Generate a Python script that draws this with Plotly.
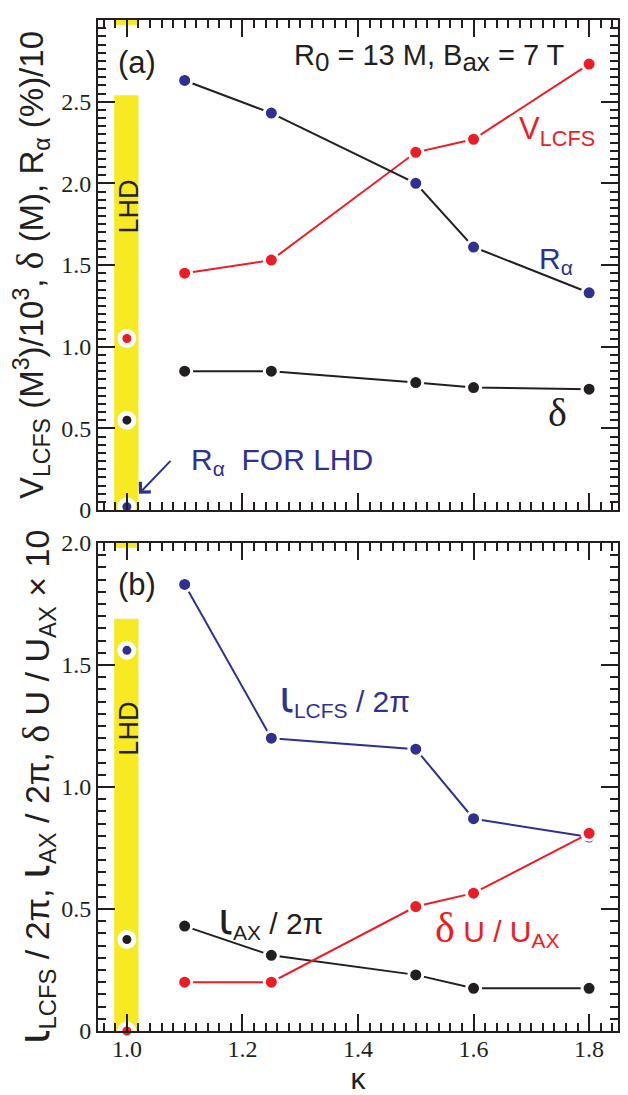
import plotly.graph_objects as go

# ---------------- data ----------------
kappa = [1.1, 1.25, 1.5, 1.6, 1.8]
# panel (a)
v_lcfs = [1.45, 1.53, 2.19, 2.27, 2.73]
r_alpha = [2.63, 2.43, 2.00, 1.61, 1.33]
delta = [0.85, 0.85, 0.78, 0.75, 0.74]
lhd_kappa = [1.0]
lhd_v_lcfs = [1.05]
lhd_delta = [0.55]
lhd_r_alpha = [0.02]
# panel (b)
iota_lcfs = [1.83, 1.20, 1.155, 0.87, 0.795]
iota_ax = [0.43, 0.31, 0.23, 0.175, 0.175]
du_uax = [0.20, 0.20, 0.51, 0.565, 0.81]
lhd_iota_lcfs = [1.56]
lhd_iota_ax = [0.375]
lhd_du_uax = [0.0]

x_ticks = [1.0, 1.2, 1.4, 1.6, 1.8]
ya_ticks = [0, 0.5, 1.0, 1.5, 2.0, 2.5]
ya_text = ["0", "0.5", "1.0", "1.5", "2.0", "2.5"]
yb_ticks = [0, 0.5, 1.0, 1.5, 2.0]
yb_text = ["0", "0.5", "1.0", "1.5", "2.0"]

BLACK = "#231f20"
BLUE = "#2e3192"
RED = "#ed1c24"
YELLOW = "#f7ea22"
SANS = "Liberation Sans, Arial, sans-serif"
SERIF = "Liberation Serif, Times New Roman, serif"


def sym(ch, size, family="Liberation Serif"):
    return f'<span style="font-family:{family};font-size:{size}px">{ch}</span>'


def iota(size):
    return sym("ι", size, "DejaVu Sans")


def bigsub(txt, size):
    return f'<sub><span style="font-size:{size}px">{txt}</span></sub>'


fig = go.Figure()


def series(x, y, line_color, marker_color, xa, ya):
    fig.add_trace(go.Scatter(
        x=x, y=y, mode="lines+markers", xaxis=xa, yaxis=ya,
        line=dict(color=line_color, width=2),
        marker=dict(color=marker_color, size=14, line=dict(color="white", width=3)),
        showlegend=False, hoverinfo="skip"))


def lhd(x, y, color, xa, ya):
    fig.add_trace(go.Scatter(
        x=x, y=y, mode="markers", xaxis=xa, yaxis=ya, cliponaxis=False,
        marker=dict(color=color, size=14, line=dict(color="white", width=5)),
        showlegend=False, hoverinfo="skip"))


# panel (a)
series(kappa, delta, BLACK, BLACK, "x", "y")
series(kappa, v_lcfs, RED, RED, "x", "y")
series(kappa, r_alpha, BLACK, BLUE, "x", "y")
lhd(lhd_kappa, lhd_v_lcfs, RED, "x", "y")
lhd(lhd_kappa, lhd_delta, BLACK, "x", "y")
lhd(lhd_kappa, lhd_r_alpha, BLUE, "x", "y")

# panel (b)
series(kappa, iota_ax, BLACK, BLACK, "x2", "y2")
series(kappa, iota_lcfs, BLUE, BLUE, "x2", "y2")
series(kappa, du_uax, RED, RED, "x2", "y2")
lhd(lhd_kappa, lhd_iota_lcfs, BLUE, "x2", "y2")
lhd(lhd_kappa, lhd_iota_ax, BLACK, "x2", "y2")
lhd(lhd_kappa, lhd_du_uax, RED, "x2", "y2")

minor_x = dict(dtick=0.02, tick0=0, ticklen=8, tickwidth=1.5, tickcolor=BLACK, ticks="inside")
minor_y = dict(dtick=0.05, tick0=0, ticklen=8, tickwidth=1.5, tickcolor=BLACK, ticks="inside")

common_axis = dict(showline=True, linecolor=BLACK, linewidth=2, mirror="allticks",
                   ticks="inside", ticklen=17, tickwidth=2, tickcolor=BLACK,
                   showgrid=False, zeroline=False, automargin=False,
                   tickfont=dict(family=SERIF, size=24, color=BLACK))

title_a = ("V<sub>LCFS</sub> (M<sup>3</sup>)/10<sup>3</sup>, " + sym("δ", 38)
           + " (M), R<sub>α</sub> (%)/10")
title_b = (iota(44) + "<sub>LCFS</sub> / 2π, " + iota(44) + "<sub>AX</sub> / 2π, "
           + sym("δ", 38) + " U / U<sub>AX</sub> × 10")

x_range = [0.95, 1.85]
# the page body adds an 8 px offset, so the figure is 8 px smaller than the window
fig.update_layout(
    width=620, height=1087,
    margin=dict(l=90, r=10, t=12, b=64),
    paper_bgcolor="white", plot_bgcolor="white",
    xaxis=dict(domain=[0, 1], range=x_range, anchor="y", tickvals=x_ticks,
               showticklabels=False, minor=minor_x, **common_axis),
    yaxis=dict(domain=[0.5153, 1], range=[0, 3.0], anchor="x",
               tickvals=ya_ticks, ticktext=ya_text, minor=minor_y,
               title=dict(text=title_a, font=dict(family=SANS, size=33, color=BLACK), standoff=12),
               **common_axis),
    xaxis2=dict(domain=[0, 1], range=x_range, anchor="y2", tickvals=x_ticks,
                tickformat=".1f", minor=minor_x, ticklabelstandoff=-5,
                title=dict(text="κ", font=dict(family=SANS, size=30, color=BLACK), standoff=0),
                **common_axis),
    yaxis2=dict(domain=[0, 0.4827], range=[0, 2.0], anchor="x2",
                tickvals=yb_ticks, ticktext=yb_text, minor=minor_y,
                title=dict(text=title_b, font=dict(family=SANS, size=34, color=BLACK), standoff=12),
                **common_axis),
)

# yellow LHD bands
shapes = [
    dict(x0=0.978, x1=1.02, y0=0, y1=2.54, xref="x", yref="y"),
    dict(x0=0.980, x1=1.018, y0=2.97, y1=3.0, xref="x", yref="y"),
    dict(x0=0.978, x1=1.02, y0=0, y1=1.69, xref="x2", yref="y2"),
    dict(x0=0.980, x1=1.018, y0=1.98, y1=2.0, xref="x2", yref="y2"),
]
for s in shapes:
    fig.add_shape(type="rect", line=dict(width=0), fillcolor=YELLOW, layer="below", **s)


def label(x, y, text, color, size, xref, yref, xanchor="left", textangle=0, family=SANS):
    fig.add_annotation(x=x, y=y, xref=xref, yref=yref, text=text, showarrow=False,
                       xanchor=xanchor, yanchor="middle", textangle=textangle,
                       font=dict(family=family, size=size, color=color))


# panel (a) labels
label(0.981, 2.74, "(a)", BLACK, 31, "x", "y")
label(1.761, 2.77, "R" + bigsub("0", 26) + " = 13 M, B" + bigsub("ax", 26) + " = 7 T",
      BLACK, 29, "x", "y", xanchor="right")
label(1.675, 2.32, "V<sub>LCFS</sub>", RED, 31, "x", "y")
label(1.71, 1.525, "R<sub>α</sub>", BLUE, 30, "x", "y")
label(1.746, 0.60, "δ", BLACK, 40, "x", "y", xanchor="center", family=SERIF)
label(1.108, 0.30, "R<sub>α</sub>\u00a0\u00a0FOR LHD", BLUE, 30, "x", "y")
label(1.004, 1.86, "LHD", BLACK, 27, "x", "y", xanchor="center", textangle=-90)
fig.add_annotation(x=1.021, y=0.10, ax=1.078, ay=0.31, xref="x", yref="y", axref="x", ayref="y",
                   text="", showarrow=True, arrowhead=4, arrowsize=1.4, arrowwidth=2, arrowcolor=BLUE)

# panel (b) labels
label(0.981, 1.83, "(b)", BLACK, 31, "x2", "y2")
label(1.26, 1.37, iota(44) + "<sub>LCFS</sub> / 2π", BLUE, 30, "x2", "y2")
label(1.155, 0.46, iota(44) + "<sub>AX</sub> / 2π", BLACK, 30, "x2", "y2")
label(1.53, 0.42, sym("δ", 42) + " U / U<sub>AX</sub>", RED, 30, "x2", "y2")
label(1.004, 1.24, "LHD", BLACK, 27, "x2", "y2", xanchor="center", textangle=-90)

fig.write_html("out.html")
